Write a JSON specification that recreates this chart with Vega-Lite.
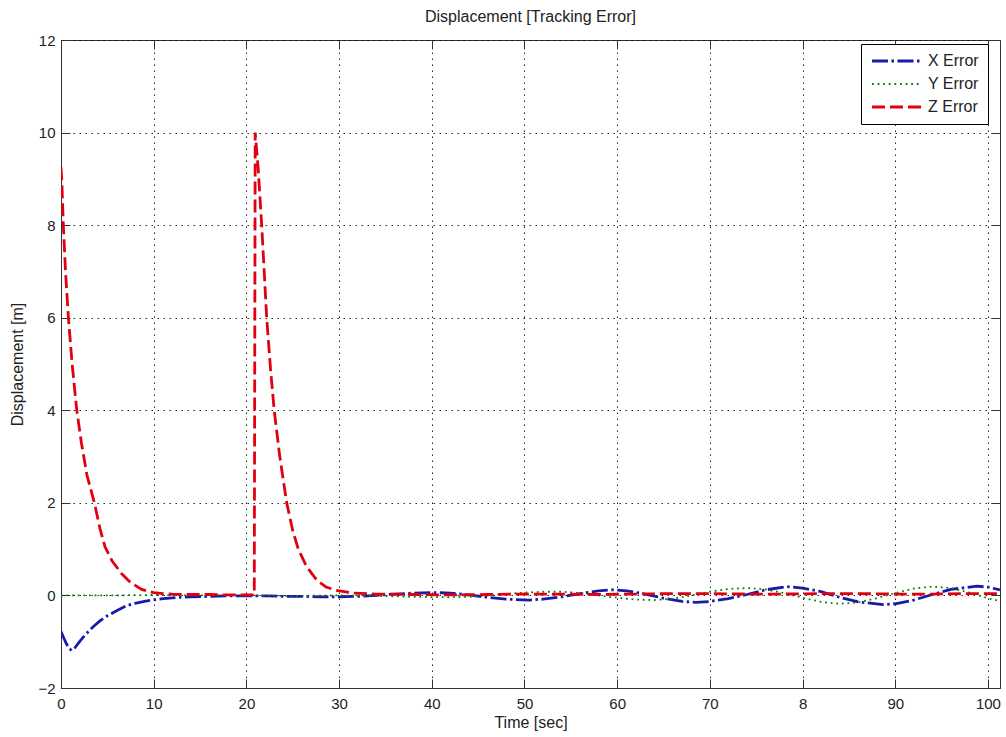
{
  "$schema": "https://vega.github.io/schema/vega-lite/v6.json",
  "width": 939,
  "height": 648,
  "autosize": {"type": "none"},
  "padding": {"left": 61, "top": 40, "right": 6, "bottom": 49},
  "background": "white",
  "title": {"text": "Displacement [Tracking Error]", "frame": "group", "anchor": "middle", "offset": 8, "fontSize": 16, "fontWeight": "normal", "color": "#222", "font": "Liberation Sans"},
  "config": {
    "font": "Liberation Sans",
    "view": {"stroke": "#333", "strokeWidth": 1},
    "axis": {"labelColor": "#222", "titleColor": "#222", "titleFontWeight": "normal", "labelFontSize": 15, "titleFontSize": 16, "labelFont": "Liberation Sans", "titleFont": "Liberation Sans", "domainColor": "#333", "tickColor": "#333", "gridColor": "#000", "gridOpacity": 0.85, "gridDash": [1.5, 4.5], "gridWidth": 1},
    "legend": {"labelFont": "Liberation Sans"}
  },
  "data": {"values": [
    {"s":"X Error","t":0,"v":-0.78},{"s":"X Error","t":0.3,"v":-0.92},{"s":"X Error","t":0.6,"v":-1.05},{"s":"X Error","t":0.9,"v":-1.15},{"s":"X Error","t":1.15,"v":-1.19},{"s":"X Error","t":1.5,"v":-1.13},{"s":"X Error","t":2,"v":-1.0},{"s":"X Error","t":2.5,"v":-0.88},{"s":"X Error","t":3,"v":-0.77},{"s":"X Error","t":3.5,"v":-0.67},{"s":"X Error","t":4.2,"v":-0.55},{"s":"X Error","t":5,"v":-0.44},{"s":"X Error","t":6,"v":-0.33},{"s":"X Error","t":7.1,"v":-0.22},{"s":"X Error","t":8,"v":-0.17},{"s":"X Error","t":9,"v":-0.13},{"s":"X Error","t":9.9,"v":-0.1},{"s":"X Error","t":11,"v":-0.07},{"s":"X Error","t":12.8,"v":-0.04},{"s":"X Error","t":14,"v":-0.03},{"s":"X Error","t":16,"v":-0.02},{"s":"X Error","t":18,"v":-0.01},{"s":"X Error","t":20,"v":-0.01},{"s":"X Error","t":22,"v":-0.01},{"s":"X Error","t":24,"v":-0.02},{"s":"X Error","t":26,"v":-0.02},{"s":"X Error","t":28,"v":-0.03},{"s":"X Error","t":30,"v":-0.03},{"s":"X Error","t":32,"v":-0.02},{"s":"X Error","t":34,"v":0.0},{"s":"X Error","t":36,"v":0.03},{"s":"X Error","t":38,"v":0.05},{"s":"X Error","t":40.5,"v":0.06},{"s":"X Error","t":42,"v":0.05},{"s":"X Error","t":44,"v":0.01},{"s":"X Error","t":46,"v":-0.04},{"s":"X Error","t":48,"v":-0.08},{"s":"X Error","t":50.5,"v":-0.1},{"s":"X Error","t":52,"v":-0.08},{"s":"X Error","t":54,"v":-0.03},{"s":"X Error","t":56,"v":0.04},{"s":"X Error","t":58,"v":0.1},{"s":"X Error","t":59.5,"v":0.12},{"s":"X Error","t":61,"v":0.1},{"s":"X Error","t":63,"v":0.03},{"s":"X Error","t":65,"v":-0.06},{"s":"X Error","t":67,"v":-0.13},{"s":"X Error","t":68.5,"v":-0.15},{"s":"X Error","t":70,"v":-0.13},{"s":"X Error","t":72,"v":-0.07},{"s":"X Error","t":74,"v":0.02},{"s":"X Error","t":76,"v":0.12},{"s":"X Error","t":78.3,"v":0.19},{"s":"X Error","t":80,"v":0.16},{"s":"X Error","t":82,"v":0.08},{"s":"X Error","t":84,"v":-0.04},{"s":"X Error","t":86,"v":-0.14},{"s":"X Error","t":88.7,"v":-0.2},{"s":"X Error","t":90,"v":-0.18},{"s":"X Error","t":92,"v":-0.1},{"s":"X Error","t":94,"v":0.02},{"s":"X Error","t":96,"v":0.13},{"s":"X Error","t":98.8,"v":0.2},{"s":"X Error","t":100,"v":0.18},{"s":"X Error","t":101.3,"v":0.12},
    {"s":"Y Error","t":0,"v":0.0},{"s":"Y Error","t":5,"v":0.0},{"s":"Y Error","t":10,"v":0.01},{"s":"Y Error","t":15,"v":0.0},{"s":"Y Error","t":20,"v":0.0},{"s":"Y Error","t":25,"v":-0.01},{"s":"Y Error","t":30,"v":0.0},{"s":"Y Error","t":34,"v":-0.01},{"s":"Y Error","t":38,"v":-0.03},{"s":"Y Error","t":42,"v":-0.04},{"s":"Y Error","t":44,"v":-0.03},{"s":"Y Error","t":46,"v":0.0},{"s":"Y Error","t":48,"v":0.03},{"s":"Y Error","t":50,"v":0.06},{"s":"Y Error","t":52,"v":0.08},{"s":"Y Error","t":54,"v":0.08},{"s":"Y Error","t":56,"v":0.05},{"s":"Y Error","t":58,"v":0.0},{"s":"Y Error","t":60,"v":-0.05},{"s":"Y Error","t":62,"v":-0.09},{"s":"Y Error","t":64,"v":-0.1},{"s":"Y Error","t":66,"v":-0.07},{"s":"Y Error","t":68,"v":0.0},{"s":"Y Error","t":70,"v":0.08},{"s":"Y Error","t":72,"v":0.14},{"s":"Y Error","t":74,"v":0.16},{"s":"Y Error","t":76,"v":0.13},{"s":"Y Error","t":78,"v":0.05},{"s":"Y Error","t":80,"v":-0.05},{"s":"Y Error","t":82,"v":-0.14},{"s":"Y Error","t":84,"v":-0.18},{"s":"Y Error","t":86,"v":-0.15},{"s":"Y Error","t":88,"v":-0.06},{"s":"Y Error","t":90,"v":0.05},{"s":"Y Error","t":92,"v":0.15},{"s":"Y Error","t":94,"v":0.19},{"s":"Y Error","t":96,"v":0.16},{"s":"Y Error","t":98,"v":0.06},{"s":"Y Error","t":100,"v":-0.06},{"s":"Y Error","t":101.3,"v":-0.12},
    {"s":"Z Error","t":0,"v":9.25},{"s":"Z Error","t":0.1,"v":8.9},{"s":"Z Error","t":0.25,"v":8.0},{"s":"Z Error","t":0.5,"v":6.95},{"s":"Z Error","t":0.8,"v":6.0},{"s":"Z Error","t":1.2,"v":5.0},{"s":"Z Error","t":1.7,"v":4.0},{"s":"Z Error","t":2.2,"v":3.3},{"s":"Z Error","t":2.8,"v":2.6},{"s":"Z Error","t":3.6,"v":2.0},{"s":"Z Error","t":4.2,"v":1.45},{"s":"Z Error","t":4.75,"v":1.05},{"s":"Z Error","t":5.5,"v":0.75},{"s":"Z Error","t":6.5,"v":0.48},{"s":"Z Error","t":7.5,"v":0.28},{"s":"Z Error","t":8.7,"v":0.13},{"s":"Z Error","t":10,"v":0.06},{"s":"Z Error","t":11,"v":0.04},{"s":"Z Error","t":12,"v":0.03},{"s":"Z Error","t":14,"v":0.02},{"s":"Z Error","t":16,"v":0.02},{"s":"Z Error","t":18,"v":0.01},{"s":"Z Error","t":20,"v":0.01},{"s":"Z Error","t":20.85,"v":0.01},{"s":"Z Error","t":20.95,"v":10.0},{"s":"Z Error","t":21.05,"v":9.75},{"s":"Z Error","t":21.28,"v":9.2},{"s":"Z Error","t":21.65,"v":8.0},{"s":"Z Error","t":22.19,"v":6.0},{"s":"Z Error","t":22.6,"v":4.9},{"s":"Z Error","t":23.0,"v":4.0},{"s":"Z Error","t":23.6,"v":3.0},{"s":"Z Error","t":24.35,"v":2.0},{"s":"Z Error","t":25.0,"v":1.4},{"s":"Z Error","t":25.6,"v":1.0},{"s":"Z Error","t":26.5,"v":0.62},{"s":"Z Error","t":27.6,"v":0.33},{"s":"Z Error","t":28.6,"v":0.18},{"s":"Z Error","t":29.7,"v":0.11},{"s":"Z Error","t":31.5,"v":0.05},{"s":"Z Error","t":34,"v":0.03},{"s":"Z Error","t":38,"v":0.02},{"s":"Z Error","t":42,"v":0.01},{"s":"Z Error","t":46,"v":0.02},{"s":"Z Error","t":50,"v":0.03},{"s":"Z Error","t":54,"v":0.03},{"s":"Z Error","t":58,"v":0.02},{"s":"Z Error","t":62,"v":0.03},{"s":"Z Error","t":66,"v":0.04},{"s":"Z Error","t":70,"v":0.04},{"s":"Z Error","t":74,"v":0.03},{"s":"Z Error","t":78,"v":0.03},{"s":"Z Error","t":82,"v":0.04},{"s":"Z Error","t":86,"v":0.04},{"s":"Z Error","t":90,"v":0.03},{"s":"Z Error","t":94,"v":0.03},{"s":"Z Error","t":98,"v":0.04},{"s":"Z Error","t":101.3,"v":0.04}
  ]},
  "layer": [
    {
      "mark": {"type": "line", "clip": true, "strokeCap": "butt"},
      "encoding": {
        "x": {"field": "t", "type": "quantitative", "scale": {"domain": [0, 101.3], "nice": false, "zero": false},
          "axis": {"orient": "bottom", "title": "Time [sec]", "values": [0,10,20,30,40,50,60,70,80,90,100], "labelExpr": "datum.value == 80 ? '8' : datum.label", "grid": true, "tickSize": -9, "labelPadding": 17, "titlePadding": 3, "labelFlush": false}},
        "y": {"field": "v", "type": "quantitative", "scale": {"domain": [-2, 12], "nice": false, "zero": false},
          "axis": {"orient": "left", "title": "Displacement [m]", "values": [-2,0,2,4,6,8,10,12], "grid": true, "tickSize": -9, "labelPadding": 15, "titlePadding": 12}},
        "color": {"field": "s", "type": "nominal", "scale": {"domain": ["X Error", "Y Error", "Z Error"], "range": ["#1a1aa8", "#0a800a", "#e00010"]},
          "legend": {"title": null, "orient": "none", "legendX": 800, "legendY": 4, "strokeColor": "#000", "fillColor": "#fff", "padding": 9, "rowPadding": 7, "labelFontSize": 16, "labelColor": "#222", "symbolType": "M-5,0H5", "symbolSize": 100, "symbolOffset": 19, "labelOffset": 23, "symbolStrokeWidth": 2.5}},
        "strokeDash": {"field": "s", "type": "nominal", "scale": {"domain": ["X Error", "Y Error", "Z Error"], "range": [[16, 3.5, 2.5, 3.5], [1.8, 3.8], [13, 5]]}},
        "strokeWidth": {"field": "s", "type": "nominal", "scale": {"type": "ordinal", "domain": ["X Error", "Y Error", "Z Error"], "range": [2.8, 1.8, 2.8]}}
      }
    },
    {
      "mark": {"type": "point", "opacity": 0},
      "encoding": {
        "x": {"field": "t", "type": "quantitative", "axis": {"orient": "top", "title": null, "labels": false, "domain": false, "grid": false, "tickSize": -9, "values": [0,10,20,30,40,50,60,70,80,90,100]}},
        "y": {"field": "v", "type": "quantitative", "axis": {"orient": "right", "title": null, "labels": false, "domain": false, "grid": false, "tickSize": -9, "values": [-2,0,2,4,6,8,10,12]}}
      }
    }
  ],
  "resolve": {"axis": {"x": "independent", "y": "independent"}}
}
